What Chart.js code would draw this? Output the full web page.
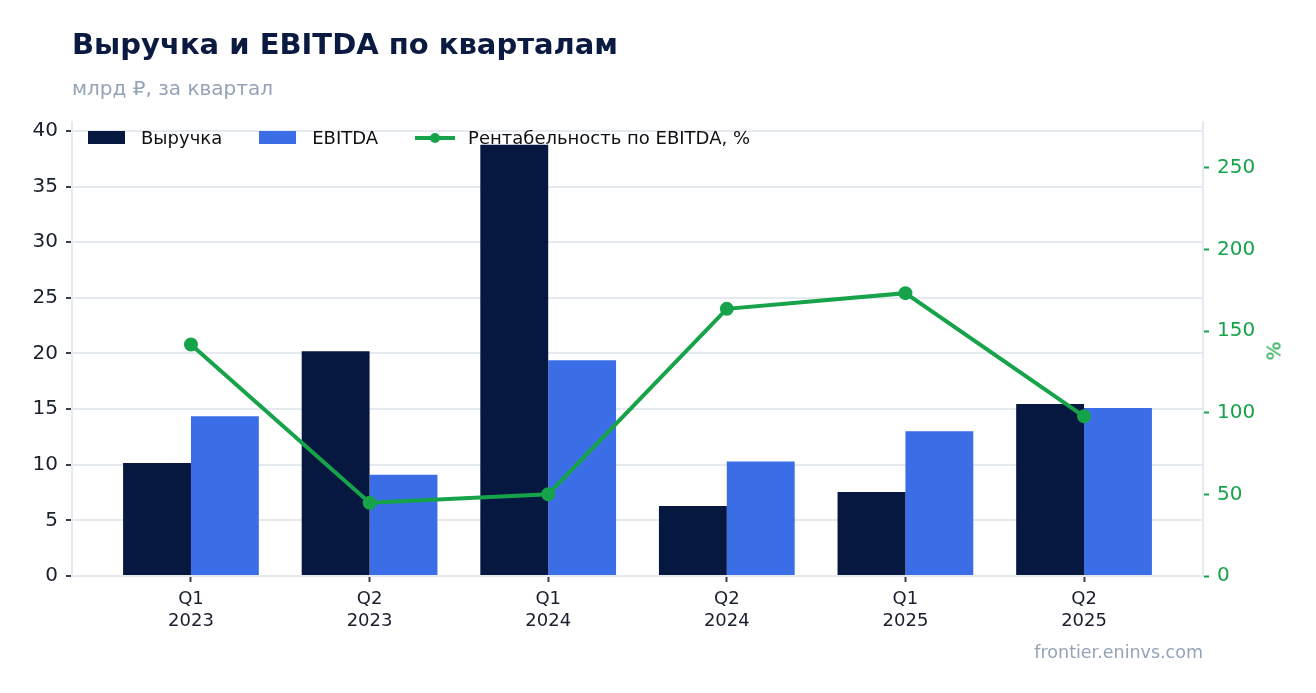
<!DOCTYPE html>
<html>
<head>
<meta charset="utf-8">
<script src="https://cdn.jsdelivr.net/npm/chart.js@4.4.1/dist/chart.umd.min.js"></script>
<style>
  html, body { margin: 0; padding: 0; background: #fff; }
  body { width: 1316px; height: 693px; position: relative; overflow: hidden; font-family: "DejaVu Sans", sans-serif; }
  #wrap { position: absolute; left: 0; top: 0; width: 1316px; height: 693px; }
  .title { position: absolute; left: 72px; top: 27px; font-size: 29px; font-weight: bold; color: #0b1a40; white-space: nowrap; }
  .subtitle { position: absolute; left: 72px; top: 76px; font-size: 20px; color: #94a3b8; white-space: nowrap; }
  .legend { position: absolute; left: 88px; top: 127px; font-size: 18px; color: #111; display: flex; align-items: center; white-space: nowrap; }
  .legend .item { display: flex; align-items: center; margin-right: 37px; }
  .legend .box { width: 37px; height: 13px; margin-right: 16px; }
  .legend .line { width: 40px; height: 4px; background: #16a34a; position: relative; margin-right: 13px; }
  .legend .line::after { content: ""; position: absolute; left: 15px; top: -3px; width: 10px; height: 10px; border-radius: 50%; background: #16a34a; }
  .pct { position: absolute; left: 1264px; top: 339px; font-size: 20px; color: #16a34a; transform: rotate(-90deg); transform-origin: center; }
  .credit { position: absolute; right: 113px; top: 642px; font-size: 17.5px; color: #94a3b8; }
</style>
</head>
<body>
<div id="wrap"><canvas id="chart" width="1316" height="693"></canvas></div>
<div class="title">Выручка и EBITDA по кварталам</div>
<div class="subtitle">млрд ₽, за квартал</div>
<div class="legend">
  <div class="item"><div class="box" style="background:#061740"></div>Выручка</div>
  <div class="item"><div class="box" style="background:#3b6de6"></div>EBITDA</div>
  <div class="item"><div class="line"></div>Рентабельность по EBITDA, %</div>
</div>
<div class="pct">%</div>
<div class="credit">frontier.eninvs.com</div>
<script>
// Quarterly data, billions of rubles
const quarters = [['Q1', '2023'], ['Q2', '2023'], ['Q1', '2024'], ['Q2', '2024'], ['Q1', '2025'], ['Q2', '2025']];
const revenue = [10.15, 20.2, 38.75, 6.3, 7.55, 15.45];
const ebitda = [14.35, 9.1, 19.4, 10.3, 13.0, 15.1];
const margin = [141.8, 44.8, 50.1, 163.6, 173.2, 97.8];
const leftTicks = [0, 5, 10, 15, 20, 25, 30, 35, 40];
const rightTicks = [0, 50, 100, 150, 200, 250];

const NAVY = '#061740';
const BLUE = '#3b6de6';
const GREEN = '#16a34a';
const GRID = '#e5e9f0';

// turn arrays into {x, y} points on the numeric x axis
const pts = arr => arr.map((v, i) => ({ x: i, y: v }));

const ctx = document.getElementById('chart').getContext('2d');
new Chart(ctx, {
    type: 'bar',
    data: {
        datasets: [
            {
                type: 'line',
                label: 'Рентабельность по EBITDA, %',
                data: pts(margin),
                yAxisID: 'y2',
                borderColor: GREEN,
                backgroundColor: GREEN,
                borderWidth: 4,
                pointRadius: 5,
                pointHoverRadius: 5,
                tension: 0,
                order: 0
            },
            {
                label: 'Выручка',
                data: pts(revenue),
                yAxisID: 'y',
                backgroundColor: NAVY,
                categoryPercentage: 0.76,
                barPercentage: 1,
                order: 1
            },
            {
                label: 'EBITDA',
                data: pts(ebitda),
                yAxisID: 'y',
                backgroundColor: BLUE,
                categoryPercentage: 0.76,
                barPercentage: 1,
                order: 1
            }
        ]
    },
    options: {
        responsive: false,
        animation: false,
        layout: { padding: { top: 122, left: 0, right: 0, bottom: 0 } },
        plugins: {
            legend: { display: false },
            tooltip: { enabled: false }
        },
        scales: {
            x: {
                type: 'linear',
                min: -0.666,
                max: 5.666,
                offset: false,
                afterBuildTicks: s => { s.ticks = quarters.map((_, i) => ({ value: i })); },
                afterFit: s => { s.height = 117; },
                grid: { offset: false, drawOnChartArea: false, drawTicks: true, tickLength: 6, tickColor: '#3a3f4b', tickWidth: 2 },
                border: { color: GRID, width: 2 },
                ticks: {
                    color: '#1a1f2e',
                    font: { family: 'DejaVu Sans', size: 18 },
                    padding: 7,
                    maxRotation: 0,
                    autoSkip: false,
                    callback: v => quarters[v] || ''
                }
            },
            y: {
                position: 'left',
                min: 0,
                max: 40.8,
                afterBuildTicks: s => { s.ticks = leftTicks.map(v => ({ value: v })); },
                afterFit: s => { s.width = 72; },
                grid: { color: GRID, lineWidth: 2, tickLength: 6, tickColor: '#3a3f4b', tickWidth: 2 },
                border: { color: GRID, width: 2 },
                ticks: {
                    color: '#1a1f2e',
                    font: { family: 'DejaVu Sans', size: 20 },
                    padding: 8
                }
            },
            y2: {
                position: 'right',
                min: 0,
                max: 278,
                afterBuildTicks: s => { s.ticks = rightTicks.map(v => ({ value: v })); },
                afterFit: s => { s.width = 113; },
                grid: { drawOnChartArea: false, tickLength: 6, tickColor: GREEN, tickWidth: 2 },
                border: { color: GRID, width: 2 },
                ticks: {
                    color: GREEN,
                    font: { family: 'DejaVu Sans', size: 20 },
                    padding: 8
                }
            }
        }
    }
});
</script>
</body>
</html>
